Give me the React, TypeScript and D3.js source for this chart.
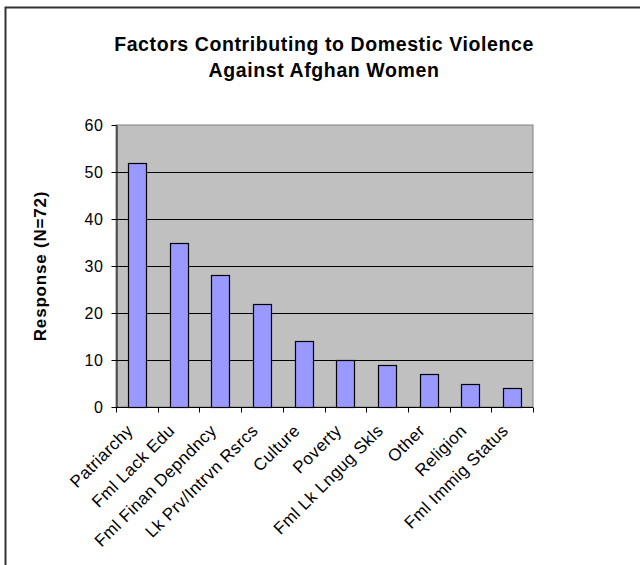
import React, { useRef, useEffect } from "react";
import * as d3 from "d3";

const categories = [
  "Patriarchy",
  "Fml Lack Edu",
  "Fml Finan Depndncy",
  "Lk Prv/Intrvn Rsrcs",
  "Culture",
  "Poverty",
  "Fml Lk Lngug Skls",
  "Other",
  "Religion",
  "Fml Immig Status",
];
const responses = [52, 35, 28, 22, 14, 10, 9, 7, 5, 4];
const yTicks = [0, 10, 20, 30, 40, 50, 60];
const titleLines = ["Factors Contributing to Domestic Violence", "Against Afghan Women"];
const yTitle = "Response (N=72)";

export default function App() {
  const svgRef = useRef<SVGSVGElement>(null);

  useEffect(() => {
    const svg = d3.select(svgRef.current);
    svg.selectAll("*").remove();

    const width = 640;
    const height = 565;
    const margin = { top: 125, right: 107, bottom: 158, left: 116 };
    const font = "'Liberation Sans', Arial, sans-serif";

    // outer frame (only top and left visible)
    svg
      .append("path")
      .attr("d", `M5.5,565 V7.5 H640`)
      .attr("fill", "none")
      .attr("stroke", "#333")
      .attr("stroke-width", 2);

    const x = d3
      .scaleBand()
      .domain(categories)
      .range([margin.left, width - margin.right])
      .paddingInner(0.57)
      .paddingOuter(0.285);

    const y = d3
      .scaleLinear()
      .domain([0, 60])
      .range([height - margin.bottom, margin.top]);

    const step = (width - margin.right - margin.left) / categories.length;

    // plot background
    svg
      .append("rect")
      .attr("x", margin.left)
      .attr("y", margin.top)
      .attr("width", width - margin.right - margin.left)
      .attr("height", height - margin.bottom - margin.top)
      .attr("fill", "#C0C0C0")
      .attr("stroke", "#808080")
      .attr("stroke-width", 1);

    // gridlines
    svg
      .append("g")
      .selectAll("line")
      .data(yTicks.filter((d) => d > 0 && d < 60))
      .join("line")
      .attr("x1", margin.left)
      .attr("x2", width - margin.right)
      .attr("y1", (d) => Math.round(y(d)) + 0.5)
      .attr("y2", (d) => Math.round(y(d)) + 0.5)
      .attr("stroke", "#000");

    // bars
    svg
      .append("g")
      .selectAll("rect")
      .data(responses)
      .join("rect")
      .attr("x", (d, i) => Math.round(x(categories[i])!) + 0.5)
      .attr("y", (d) => Math.round(y(d)) + 0.5)
      .attr("width", Math.round(x.bandwidth()))
      .attr("height", (d) => Math.round(y(0)) - Math.round(y(d)))
      .attr("fill", "#9999FF")
      .attr("stroke", "#000")
      .attr("stroke-width", 1.2);

    // y axis
    const yAxis = svg
      .append("g")
      .attr("transform", `translate(${margin.left + 0.5},0)`)
      .call(d3.axisLeft(y).tickValues(yTicks).tickSize(5).tickPadding(8).tickSizeOuter(0));
    yAxis.select(".domain").attr("stroke", "#000");
    yAxis
      .selectAll("text")
      .attr("font-family", font)
      .attr("font-size", 16)
      .attr("letter-spacing", 0.6)
      .attr("fill", "#000");

    // x axis baseline + ticks at band boundaries
    const y0 = Math.round(y(0)) + 0.5;
    svg
      .append("line")
      .attr("x1", margin.left)
      .attr("x2", width - margin.right)
      .attr("y1", y0)
      .attr("y2", y0)
      .attr("stroke", "#000");
    svg
      .append("g")
      .selectAll("line")
      .data(d3.range(categories.length + 1))
      .join("line")
      .attr("x1", (i) => Math.round(margin.left + i * step) + 0.5)
      .attr("x2", (i) => Math.round(margin.left + i * step) + 0.5)
      .attr("y1", y0)
      .attr("y2", y0 + 5)
      .attr("stroke", "#000");

    // x labels rotated
    svg
      .append("g")
      .selectAll("text")
      .data(categories)
      .join("text")
      .attr(
        "transform",
        (d) => `translate(${x(d)! + x.bandwidth() / 2 - 7},${y0 + 20}) rotate(-45)`
      )
      .attr("text-anchor", "end")
      .attr("dy", "0.35em")
      .attr("font-family", font)
      .attr("font-size", 17)
      .attr("letter-spacing", 0.4)
      .text((d) => d);

    // title
    svg
      .append("g")
      .selectAll("text")
      .data(titleLines)
      .join("text")
      .attr("x", 324)
      .attr("y", (d, i) => 51 + i * 26)
      .attr("text-anchor", "middle")
      .attr("font-family", font)
      .attr("font-weight", "bold")
      .attr("font-size", 19.5)
      .attr("letter-spacing", 0.6)
      .text((d) => d);

    // y title
    svg
      .append("text")
      .attr("transform", `translate(46,${(margin.top + height - margin.bottom) / 2}) rotate(-90)`)
      .attr("text-anchor", "middle")
      .attr("font-family", font)
      .attr("font-weight", "bold")
      .attr("font-size", 17)
      .attr("letter-spacing", 0.8)
      .text(yTitle);
  }, []);

  return (
    <svg
      ref={svgRef}
      width={640}
      height={565}
      style={{ position: "absolute", left: 0, top: 0, background: "#fff" }}
    />
  );
}
